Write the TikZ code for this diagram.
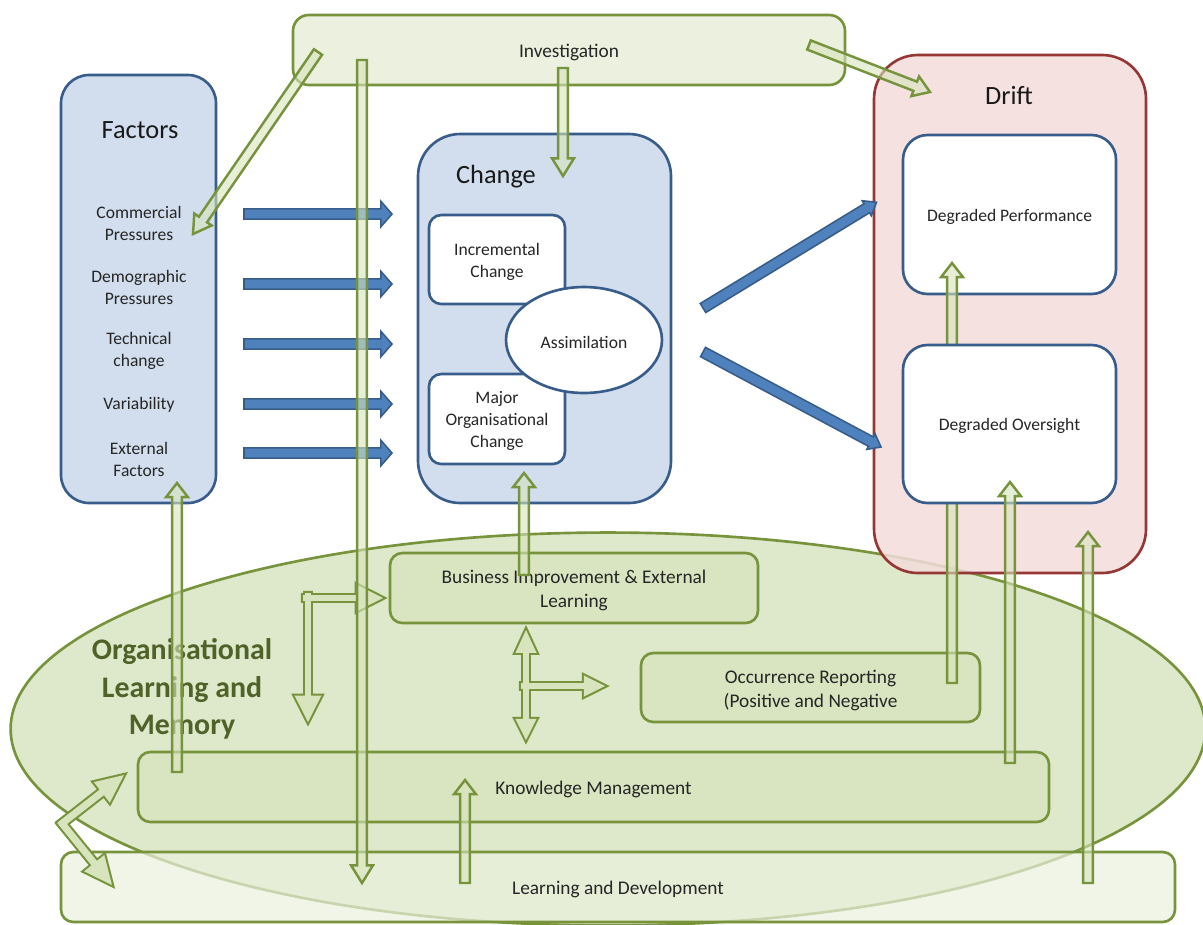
\documentclass[tikz,border=0pt]{standalone}
\usepackage{fontspec}
\setmainfont{Carlito}
\usetikzlibrary{calc,fit,shapes.geometric}

\definecolor{gdark}{RGB}{119,147,60}
\definecolor{gfill}{RGB}{215,228,189}
\definecolor{glight}{RGB}{235,241,222}
\definecolor{olmfill}{RGB}{222,232,202}
\definecolor{gtext}{RGB}{79,98,40}
\definecolor{bdark}{RGB}{56,93,138}
\definecolor{bfill}{RGB}{79,129,189}
\definecolor{blight}{RGB}{210,222,238}
\definecolor{rdark}{RGB}{149,55,53}
\definecolor{rlight}{RGB}{242,220,219}

\tikzset{
	box/.style={inner sep=0pt, line width=1.5pt},
	greenbox/.style={box, draw=gdark, fill=gfill, fill opacity=0.7, rounded corners=7pt},
	bluebox/.style={box, draw=bdark, fill=blight},
	whitebox/.style={box, draw=bdark, fill=white},
	driftbox/.style={box, draw=rdark, fill=rlight, fill opacity=0.85, rounded corners=25pt},
	boxtxt/.style={align=center, text=black!85, font=\fontsize{11}{13.5}\selectfont, yshift=-1.5pt},
	smalltxt/.style={align=center, text=black!85, font=\fontsize{10}{12.5}\selectfont},
	intxt/.style={smalltxt, yshift=-1.2pt},
	titletxt/.style={text=black!90, font=\fontsize{15}{18}\selectfont},
	olmshape/.style={draw=gdark, line width=1.5pt, fill=olmfill},
	olmtxt/.style={align=center, text=gtext, font=\bfseries\fontsize{17}{21.5}\selectfont},
	barrow/.style={draw=bdark, line width=0.9pt, fill=bfill},
	garrow/.style={draw=gdark, line width=1.4pt, fill=gfill, fill opacity=0.6},
	gline/.style={draw=gdark, line width=2.4pt},
	gfillin/.style={fill=gfill, draw=none}
}

% block arrow: [style]{from}{to}{half shaft}{half head}{head length}
\newcommand{\blockarrow}[6][garrow]{%
	\draw[#1] let \p1=($(#3)-(#2)$), \n1={veclen(\x1,\y1)}, \n2={atan2(\y1,\x1)} in
		[shift={(#2)}, rotate=\n2] (0pt,-#4) -- ({\n1-#6},-#4) -- ({\n1-#6},-#5) -- (\n1,0pt)
		-- ({\n1-#6},#5) -- ({\n1-#6},#4) -- (0pt,#4) -- cycle;%
}

\begin{document}
\begin{tikzpicture}[x=0.02cm, y=-0.02cm]
	\useasboundingbox (0,0) rectangle (1203,924);

	\node[olmshape, ellipse, inner sep=0pt, minimum width=23.9cm, minimum height=7.86cm] (olm) at (608,729) {};
	\node[greenbox, fill=glight, fit={(61,852) (1175,922)}] (ld) {};
	\node[boxtxt] at (ld.center) {Learning and Development};
	\node[greenbox, fit={(138,752) (1049,822)}] (km) {};
	\node[boxtxt] at (km.center) {Knowledge Management};
	\node[greenbox, fit={(390,553) (758,623)}] (bi) {};
	\node[boxtxt] at (bi.center) {Business Improvement \& External\\Learning};
	\node[greenbox, fit={(641,653) (980,722)}] (occ) {};
	\node[boxtxt] at (occ.center) {Occurrence Reporting\\(Positive and Negative};
	\node[olmtxt] (olmlabel) at (182,689) {Organisational\\Learning and\\Memory};

	\node[greenbox, fill=glight, fill opacity=1, rounded corners=9pt, fit={(293,15) (845,85)}] (inv) {};
	\node[boxtxt] at (inv.center) {Investigation};

	\node[bluebox, rounded corners=16pt, fit={(61,75) (216,503)}] (fac) {};
	\node[titletxt] (factitle) at (140,130) {Factors};
	\node[smalltxt] (comm) at (139,223) {Commercial\\Pressures};
	\node[smalltxt] (demo) at (139,287) {Demographic\\Pressures};
	\node[smalltxt] (tech) at (139,351) {Technical\\change};
	\node[smalltxt] (vari) at (139,405) {Variability};
	\node[smalltxt] (ext) at (139,459) {External\\Factors};

	\node[bluebox, rounded corners=24pt, fit={(418,134) (671,503)}] (chg) {};
	\node[titletxt] (chgtitle) at (496,177) {Change};
	\node[whitebox, rounded corners=7pt, fit={(429,215) (565,304)}] (inc) {};
	\node[intxt] at (inc.center) {Incremental\\Change};
	\node[whitebox, rounded corners=7pt, fit={(429,374) (565,464)}] (maj) {};
	\node[intxt] at (maj.center) {Major\\Organisational\\Change};
	\node[whitebox, ellipse, minimum width=3.12cm, minimum height=2.12cm] (assim) at (584,340) {};
	\node[intxt] at (assim.center) {Assimilation};

	\node[driftbox, fit={(874,55) (1146,573)}] (drift) {};
	\node[titletxt] (drifttitle) at (1009,96) {Drift};
	\node[whitebox, rounded corners=14pt, fit={(903,135) (1116,294)}] (dperf) {};
	\node[intxt] at (dperf.center) {Degraded Performance};

	\coordinate (occ-up) at (952,683);
	\coordinate (dperf-in) at (952,263);
	\blockarrow{occ-up}{dperf-in}{2.8pt}{6.2pt}{8pt}

	\node[whitebox, rounded corners=14pt, fit={(903,345) (1116,503)}] (dover) {};
	\node[intxt] at (dover.center) {Degraded Oversight};

	\foreach \y [count=\i] in {214,284,344,404,453} {
		\coordinate (fo\i) at (244,\y);
		\coordinate (ci\i) at (392,\y);
		\blockarrow[barrow]{fo\i}{ci\i}{2.9pt}{7.2pt}{6.3pt}
	}
	\coordinate (chg-o1) at (703,308);
	\coordinate (dperf-b) at (877,202);
	\coordinate (chg-o2) at (703,352);
	\coordinate (dover-b) at (881,447);
	\blockarrow[barrow]{chg-o1}{dperf-b}{3pt}{5pt}{6.5pt}
	\blockarrow[barrow]{chg-o2}{dover-b}{3pt}{5pt}{6.5pt}

	\coordinate (el-r0) at (303,598);
	\coordinate (el-r) at (383,598);
	\coordinate (el-d0) at (308,593);
	\coordinate (el-d) at (308,722);
	\coordinate (cr-c) at (526,686);
	\coordinate (cr-c0) at (521,686);
	\coordinate (cr-u) at (526,630);
	\coordinate (cr-d) at (526,740);
	\coordinate (cr-r) at (605,686);
	\coordinate (zz-a) at (60,825);
	\coordinate (zz-u) at (124,775);
	\coordinate (zz-b) at (60,821);
	\coordinate (zz-l) at (112,885);
	\foreach \st in {gline, gfillin} {
		\blockarrow[\st]{el-r0}{el-r}{1.6pt}{7.6pt}{15pt}
		\blockarrow[\st]{el-d0}{el-d}{1.6pt}{7.6pt}{15pt}
		\blockarrow[\st]{cr-c}{cr-u}{1.6pt}{6pt}{13pt}
		\blockarrow[\st]{cr-c}{cr-d}{1.6pt}{6pt}{12pt}
		\blockarrow[\st]{cr-c0}{cr-r}{1.6pt}{6pt}{12pt}
		\blockarrow[\st]{zz-a}{zz-u}{2pt}{7.4pt}{16pt}
		\blockarrow[\st]{zz-b}{zz-l}{2pt}{7.4pt}{16pt}
	}

	\coordinate (inv-sw) at (318,52);
	\coordinate (comm-in) at (193,234);
	\coordinate (inv-s1) at (362,60);
	\coordinate (ld-in) at (362,883);
	\coordinate (inv-s2) at (563,68);
	\coordinate (chg-in) at (563,176);
	\coordinate (inv-se) at (809,45);
	\coordinate (drift-in) at (930,92);
	\coordinate (km-up1) at (177,772);
	\coordinate (fac-in) at (177,483);
	\coordinate (bi-up) at (524,575);
	\coordinate (chg-b) at (524,473);
	\coordinate (km-up2) at (1010,763);
	\coordinate (dover-in) at (1010,482);
	\coordinate (ld-up1) at (1088,883);
	\coordinate (drift-b) at (1088,532);
	\coordinate (ld-up2) at (465,883);
	\coordinate (km-in) at (465,780);
	\blockarrow{inv-sw}{comm-in}{2.8pt}{6pt}{10pt}
	\blockarrow{inv-s1}{ld-in}{2.8pt}{6.2pt}{10pt}
	\blockarrow{inv-s2}{chg-in}{2.8pt}{6.2pt}{10pt}
	\blockarrow{inv-se}{drift-in}{2.8pt}{6pt}{9pt}
	\blockarrow{km-up1}{fac-in}{2.8pt}{6.2pt}{8pt}
	\blockarrow{bi-up}{chg-b}{2.8pt}{6.2pt}{8pt}
	\blockarrow{km-up2}{dover-in}{2.8pt}{6.2pt}{8pt}
	\blockarrow{ld-up1}{drift-b}{2.8pt}{6.2pt}{8pt}
	\blockarrow{ld-up2}{km-in}{2.8pt}{6.2pt}{8pt}
\end{tikzpicture}
\end{document}
